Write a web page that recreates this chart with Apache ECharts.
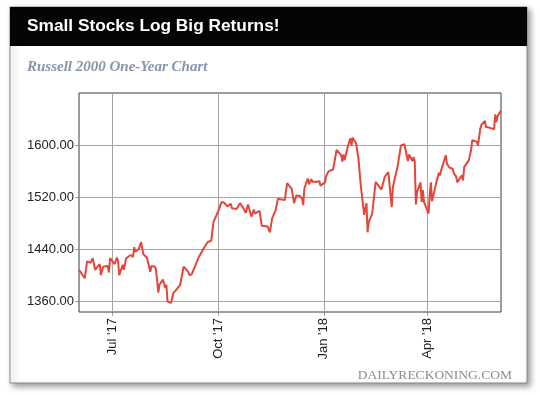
<!DOCTYPE html>
<html>
<head>
<meta charset="utf-8">
<script src="https://cdn.jsdelivr.net/npm/echarts@6/dist/echarts.min.js"></script>
<style>
html,body{margin:0;padding:0;background:#ffffff;}
#chart{width:540px;height:395px;}
</style>
</head>
<body>
<div id="chart"></div>
<script>
// ---- Data (Russell 2000 closes) ----
const tradeDates = [
  '2017-06-02','2017-06-07','2017-06-09','2017-06-12','2017-06-14','2017-06-16','2017-06-20','2017-06-21','2017-06-23','2017-06-27','2017-06-28','2017-06-29',
  '2017-07-03','2017-07-05','2017-07-06','2017-07-07','2017-07-10','2017-07-11','2017-07-13','2017-07-17','2017-07-19','2017-07-20','2017-07-21','2017-07-24','2017-07-26','2017-07-28','2017-07-31',
  '2017-08-01','2017-08-03','2017-08-04','2017-08-07','2017-08-08','2017-08-10','2017-08-11','2017-08-14','2017-08-16','2017-08-17','2017-08-18','2017-08-21','2017-08-23','2017-08-25','2017-08-29',
  '2017-09-01','2017-09-05','2017-09-06','2017-09-08','2017-09-14','2017-09-19','2017-09-22','2017-09-25','2017-09-27','2017-09-29',
  '2017-10-02','2017-10-04','2017-10-06','2017-10-09','2017-10-12','2017-10-13','2017-10-17','2017-10-20','2017-10-23','2017-10-25','2017-10-27','2017-10-30',
  '2017-11-01','2017-11-02','2017-11-06','2017-11-07','2017-11-08','2017-11-13','2017-11-14','2017-11-15','2017-11-17','2017-11-20','2017-11-22','2017-11-24','2017-11-28','2017-11-30',
  '2017-12-01','2017-12-04','2017-12-06','2017-12-08','2017-12-11','2017-12-13','2017-12-14','2017-12-15','2017-12-18','2017-12-19','2017-12-21','2017-12-22','2017-12-26','2017-12-28','2017-12-29',
  '2018-01-02','2018-01-03','2018-01-05','2018-01-09','2018-01-10','2018-01-12','2018-01-16','2018-01-17','2018-01-18','2018-01-19','2018-01-22','2018-01-24','2018-01-25','2018-01-26','2018-01-29','2018-01-31',
  '2018-02-01','2018-02-02','2018-02-05','2018-02-07','2018-02-08','2018-02-09','2018-02-12','2018-02-15','2018-02-20','2018-02-21','2018-02-23','2018-02-26',
  '2018-03-01','2018-03-02','2018-03-06','2018-03-09','2018-03-12','2018-03-13','2018-03-15','2018-03-16','2018-03-19','2018-03-20','2018-03-21','2018-03-22','2018-03-23','2018-03-26','2018-03-27','2018-03-28','2018-03-29',
  '2018-04-02','2018-04-03','2018-04-04','2018-04-05','2018-04-06','2018-04-09','2018-04-11','2018-04-12','2018-04-13','2018-04-17','2018-04-18','2018-04-20','2018-04-23','2018-04-24','2018-04-25','2018-04-26','2018-04-27',
  '2018-05-01','2018-05-02','2018-05-03','2018-05-07','2018-05-09','2018-05-10','2018-05-14','2018-05-15','2018-05-17','2018-05-18','2018-05-21','2018-05-22','2018-05-24','2018-05-29','2018-05-30','2018-05-31',
  '2018-06-01','2018-06-04'
];
const closeValues = [
  1408,1395,1421,1419,1426,1408,1417,1400,1413,1414,1404,1426,
  1417,1427,1421,1400,1416,1408,1426,1431,1428,1443,1436,1440,1451,1432,1427,
  1428,1405,1414,1413,1408,1373,1385,1393,1380,1385,1359,1357,1372,1376,1385,
  1413,1405,1400,1401,1427,1443,1451,1453,1482,1490,
  1503,1513,1512,1506,1510,1503,1502,1511,1503,1496,1509,1490,
  1501,1495,1499,1499,1476,1475,1474,1466,1488,1500,1518,1517,1516,1542,
  1539,1533,1511,1523,1522,1518,1508,1534,1549,1540,1548,1544,1544,1545,1538,
  1543,1553,1560,1563,1562,1593,1585,1575,1586,1577,1600,1611,1600,1612,1603,1580,
  1577,1539,1493,1511,1466,1482,1495,1544,1532,1531,1552,1559,
  1505,1536,1567,1600,1602,1593,1576,1586,1576,1582,1575,1509,1528,1543,1513,1531,1513,
  1495,1523,1543,1514,1514,1545,1558,1554,1562,1585,1572,1566,1564,1557,1560,1552,1543,
  1554,1546,1567,1577,1593,1608,1606,1600,1626,1632,1638,1628,1628,1625,1648,1636,
  1645,1654
];
const yTicks = [1360, 1440, 1520, 1600];
const xTickDates = ['2017-07-01', '2017-10-01', '2018-01-01', '2018-04-01'];
const xTickLabels = ["Jul '17", "Oct '17", "Jan '18", "Apr '18"];
const xRange = ['2017-06-02', '2018-06-04'];
const yRange = [1343, 1681];

const titleText = 'Small Stocks Log Big Returns!';
const subtitleText = 'Russell 2000 One-Year Chart';
const creditText = 'DAILYRECKONING.COM';

// ---- Build ----
const tp = s => { const p = s.split('-').map(Number); return Date.UTC(p[0], p[1] - 1, p[2]); };
const seriesData = tradeDates.map((d, i) => [tp(d), closeValues[i]]);
const xTickVals = xTickDates.map(tp);

const chart = echarts.init(document.getElementById('chart'), null, {renderer: 'canvas'});
const gridColor = '#a3a3a3';
const option = {
  animation: false,
  backgroundColor: '#ffffff',
  graphic: [
    {type: 'rect', z: 0, shape: {x: 10, y: 7, width: 517, height: 376},
     style: {fill: '#ffffff', stroke: '#8a8a8a', lineWidth: 1,
             shadowBlur: 6, shadowOffsetX: 3, shadowOffsetY: 3, shadowColor: 'rgba(0,0,0,0.4)'}},
    {type: 'rect', z: 1, shape: {x: 10, y: 7, width: 517, height: 39},
     style: {fill: '#050505'}},
    {type: 'text', z: 2, x: 27, y: 26.5,
     style: {text: titleText, fill: '#ffffff', font: 'bold 17.3px "Liberation Sans", Arial, sans-serif',
             textAlign: 'left', textVerticalAlign: 'middle'}},
    {type: 'text', z: 2, x: 27, y: 67,
     style: {text: subtitleText, fill: '#8a92ac', font: 'italic bold 15px "Liberation Serif", "Times New Roman", serif',
             textAlign: 'left', textVerticalAlign: 'middle'}},
    {type: 'text', z: 2, x: 512, y: 375.5,
     style: {text: creditText, fill: '#8c8c8c', font: '13.5px "Liberation Serif", "Times New Roman", serif',
             textAlign: 'right', textVerticalAlign: 'middle'}}
  ],
  grid: {left: 79, top: 93, width: 422, height: 219, show: true,
         borderColor: '#3a3a3a', borderWidth: 1, backgroundColor: 'transparent', z: 3},
  xAxis: {
    type: 'value', min: tp(xRange[0]), max: tp(xRange[1]),
    axisLine: {show: false},
    splitLine: {show: false},
    axisTick: {show: true, customValues: xTickVals, length: 4, inside: false, lineStyle: {color: gridColor}},
    axisLabel: {
      customValues: xTickVals, rotate: 90, margin: 6, color: '#222',
      fontSize: 13, fontFamily: '"Liberation Sans", Arial, sans-serif',
      formatter: v => { const i = xTickVals.indexOf(Number(v)); return i >= 0 ? xTickLabels[i] : ''; }
    }
  },
  yAxis: {
    type: 'value', min: yRange[0], max: yRange[1],
    axisLine: {show: false},
    splitLine: {show: false},
    axisTick: {show: true, customValues: yTicks, length: 4, inside: false, lineStyle: {color: gridColor}},
    axisLabel: {
      customValues: yTicks, margin: 5, color: '#222',
      fontSize: 13, fontFamily: '"Liberation Sans", Arial, sans-serif',
      formatter: v => Number(v).toFixed(2)
    }
  },
  series: [
    {
      type: 'line', z: 1, silent: true, symbol: 'none',
      data: seriesData, lineStyle: {opacity: 0},
      markLine: {
        silent: true, symbol: ['none', 'none'], label: {show: false}, animation: false,
        lineStyle: {color: gridColor, width: 1, type: 'solid'},
        emphasis: {disabled: true},
        data: yTicks.map(v => ({yAxis: v})).concat(xTickVals.map(v => ({xAxis: v})))
      }
    },
    {
      type: 'line', z: 5, silent: true, symbol: 'none', showSymbol: false,
      data: seriesData,
      lineStyle: {color: '#e5453b', width: 2},
      emphasis: {disabled: true}
    }
  ]
};
chart.setOption(option);
</script>
</body>
</html>
